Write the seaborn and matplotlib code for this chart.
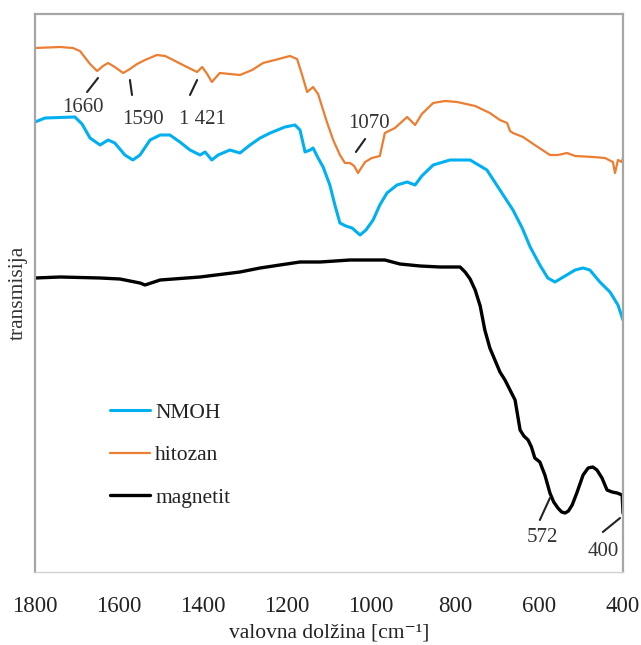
import numpy as np
import pandas as pd
import matplotlib
matplotlib.use("Agg")
import matplotlib.pyplot as plt
import seaborn as sns

# ---------------- data ----------------
# wavenumbers [cm-1] and transmission (arbitrary units)
hitozan_wn = [1800, 1740, 1710, 1693, 1680, 1669, 1652, 1638, 1626, 1610, 1590, 1574, 1557, 1538,
              1510, 1490, 1471, 1443, 1414, 1402, 1390, 1379, 1360, 1336, 1312, 1283,
              1257, 1229, 1193, 1176, 1164, 1152, 1138, 1126, 1114, 1105, 1090, 1074,
              1062, 1050, 1040, 1031, 1014, 998, 979, 967, 943, 914, 902, 895, 879,
              852, 824, 795, 752, 717, 693, 676, 669, 662, 638, 610, 574, 555, 533,
              514, 471, 443, 424, 419, 412, 403, 400]
hitozan_t = [524, 525, 524, 521, 514, 508, 501, 506, 509, 505, 499, 503, 508, 512,
             517, 516, 512, 506, 500, 505, 498, 490, 499, 498, 497, 502,
             509, 512, 516, 513, 497, 480, 485, 478, 462, 450, 432, 417,
             409, 409, 406, 399, 410, 414, 416, 439, 444, 455, 450, 447, 458,
             469, 471, 470, 466, 459, 452, 449, 441, 439, 435, 427, 417, 417, 419,
             416, 415, 414, 410, 399, 412, 410, 414]

nmoh_wn = [1800, 1776, 1705, 1688, 1669, 1645, 1626, 1610, 1586, 1567, 1550, 1526,
           1502, 1479, 1455, 1431, 1407, 1395, 1379, 1364, 1336, 1312, 1288, 1264,
           1240, 1205, 1181, 1169, 1157, 1145, 1138, 1126, 1114, 1098, 1086, 1074,
           1060, 1045, 1026, 1012, 995, 979, 962, 938, 914, 895, 879, 852, 812,
           764, 724, 693, 662, 640, 621, 598, 579, 562, 538, 514, 495, 479, 455,
           431, 412, 400]
nmoh_t = [450, 454, 455, 448, 434, 427, 432, 429, 417, 412, 417, 432,
          437, 437, 430, 422, 417, 420, 412, 417, 422, 419, 427, 434,
          439, 445, 447, 442, 420, 422, 424, 414, 405, 387, 367, 349,
          346, 344, 337, 342, 352, 367, 379, 387, 390, 387, 396, 407, 412,
          412, 402, 382, 362, 344, 325, 307, 294, 290, 296, 302, 304, 302, 290,
          280, 267, 252]

magnetit_wn = [1800, 1740, 1645, 1598, 1550, 1538, 1502, 1407, 1312, 1264, 1217, 1169,
               1121, 1050, 967, 931, 883, 836, 788, 776, 764, 752, 740, 729, 717, 705,
               693, 681, 669, 657, 645, 636, 626, 618, 610, 598, 586, 574, 565, 555,
               546, 538, 530, 521, 510, 495, 483, 472, 462, 450, 438, 426,
               414, 402, 400]
magnetit_t = [294, 295, 294, 293, 289, 287, 292, 295, 300, 304, 307, 310,
              310, 312, 312, 308, 306, 305, 305, 300, 293, 282, 266, 242, 224, 212,
              200, 192, 182, 172, 142, 136, 132, 125, 114, 110, 97, 79, 70, 64,
              60, 59, 61, 67, 79, 97, 104, 105, 102, 94, 82, 80,
              79, 77, 59]

series_names = ["NMOH", "hitozan", "magnetit"]
series_colors = ["#00B0F0", "#ED7D31", "#000000"]

x_ticks = [1800, 1600, 1400, 1200, 1000, 800, 600, 400]

# peak annotations: label, text position, leader line (start -> end)
ann_labels = ["1660", "1590", "1 421", "1070", "572", "400"]
ann_text_x = [1686, 1543, 1402, 1005, 593, 448]
ann_text_y = [464, 452, 452, 448, 34, 20]
ann_x0 = [1676, 1569, 1431, 1036, 598, 448]
ann_y0 = [480, 477, 477, 420, 52, 40]
ann_x1 = [1650, 1574, 1414, 1014, 574, 407]
ann_y1 = [494, 492, 492, 433, 74, 54]

# ---------------- style ----------------
sns.set_style("white")
plt.rcParams["font.family"] = ["Liberation Serif", "DejaVu Serif"]

fig = plt.figure(figsize=(6.41, 6.45), dpi=100)
ax = fig.add_axes([35 / 641, 1 - 572 / 645, 588 / 641, 558 / 645])

frames = {
    "NMOH": pd.DataFrame({"wn": nmoh_wn, "t": nmoh_t}),
    "hitozan": pd.DataFrame({"wn": hitozan_wn, "t": hitozan_t}),
    "magnetit": pd.DataFrame({"wn": magnetit_wn, "t": magnetit_t}),
}
widths = {"NMOH": 2.2, "hitozan": 1.6, "magnetit": 2.4}
for name, col in zip(series_names, series_colors):
    sns.lineplot(data=frames[name], x="wn", y="t", ax=ax, color=col,
                 lw=widths[name], sort=False, estimator=None, label=name)

ax.set_xlim(1800, 400)
ax.set_ylim(0, 558)
ax.set_xticks(x_ticks)
ax.set_xticklabels([str(v) for v in x_ticks])
ax.set_yticks([])
ax.tick_params(axis="x", length=0, pad=17, labelsize=16.5, colors="#222222")
ax.set_xlabel("valovna dolžina [cm⁻¹]", fontsize=15.5, color="#222222")
ax.xaxis.set_label_coords(0.5, -0.092)
ax.set_ylabel("transmisija", fontsize=15.5, labelpad=5, color="#333333")

for side in ["left", "top", "right"]:
    ax.spines[side].set_color("#a6a6a6")
    ax.spines[side].set_linewidth(1.6)
ax.spines["bottom"].set_color("#d0d0d0")
ax.spines["bottom"].set_linewidth(1.0)

for lab, tx, ty, x0, y0, x1, y1 in zip(ann_labels, ann_text_x, ann_text_y,
                                       ann_x0, ann_y0, ann_x1, ann_y1):
    ax.annotate("", xy=(x1, y1), xytext=(x0, y0),
                arrowprops=dict(arrowstyle="-", color="#222222", lw=1.5,
                                shrinkA=0, shrinkB=0))
    ax.text(tx, ty, lab, ha="center", va="center", fontsize=15, color="#333333")

leg = ax.legend(loc="upper left", bbox_to_anchor=(0.1276, 0.303), frameon=False,
                fontsize=15.5, handlelength=1.85, handletextpad=0.25,
                labelspacing=1.04, borderpad=0, borderaxespad=0)
for t in leg.get_texts():
    t.set_color("#222222")

fig.savefig("out.png", dpi=100)
